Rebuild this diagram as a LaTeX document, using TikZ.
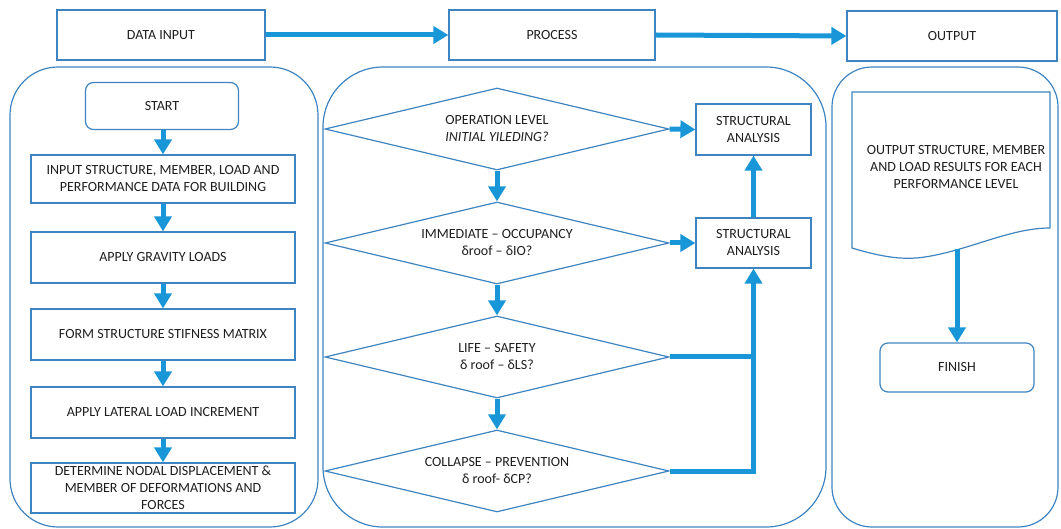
\documentclass[tikz,border=0pt]{standalone}
\usepackage{fontspec}
\setmainfont{Carlito}
\usetikzlibrary{arrows.meta,shapes.geometric,calc}
\definecolor{edge}{RGB}{62,132,192}
\definecolor{flow}{RGB}{24,150,215}
\definecolor{ink}{RGB}{30,30,30}
\begin{document}
\begin{tikzpicture}[x=1pt,y=-1pt,
  font=\fontsize{14}{17}\selectfont,
  every node/.style={text=ink},
  box/.style={draw=edge,line width=1.2pt,rectangle,inner sep=0pt,align=center},
  rbox/.style={box,rounded corners=8pt},
  panel/.style={draw=edge,line width=1.2pt},
  dia/.style={draw=edge,line width=1.2pt,diamond,shape aspect=4.2,minimum width=344pt,minimum height=82pt,inner sep=0pt,align=center},
  flowarrow/.style={draw=flow,line width=5pt,-{Triangle[length=15pt,width=17pt]}},
  flowline/.style={draw=flow,line width=5pt}
]
\useasboundingbox (0,0) rectangle (1061,529);
% panels
\draw[panel,rounded corners=48pt] (10,67) rectangle (318,527);
\draw[panel,rounded corners=60pt] (323,67) rectangle (826,527);
\draw[panel,rounded corners=40pt] (832,67) rectangle (1058,527);
% top boxes
\node[box,minimum width=208pt,minimum height=50pt] (di) at (161,35) {DATA INPUT};
\node[box,minimum width=206pt,minimum height=50pt] (pr) at (552,35) {PROCESS};
\node[box,minimum width=210pt,minimum height=50pt] (out) at (952,36) {OUTPUT};
\draw[flowarrow] (di.east) -- (pr.west);
\draw[flowarrow] (pr.east) -- (out.west);
% left column
\node[rbox,minimum width=153pt,minimum height=47pt] (start) at (162,106) {START};
\node[box,minimum width=264pt,minimum height=48pt] (inp) at (163,179) {INPUT STRUCTURE, MEMBER, LOAD AND\\PERFORMANCE DATA FOR BUILDING};
\node[box,minimum width=264pt,minimum height=51pt] (grav) at (163,257.5) {APPLY GRAVITY LOADS};
\node[box,minimum width=264pt,minimum height=51pt] (stif) at (163,334.5) {FORM STRUCTURE STIFNESS MATRIX};
\node[box,minimum width=264pt,minimum height=51pt] (lat) at (163,412.5) {APPLY LATERAL LOAD INCREMENT};
\node[box,minimum width=264pt,minimum height=50pt] (det) at (163,488) {DETERMINE NODAL DISPLACEMENT \&\\MEMBER OF DEFORMATIONS AND\\FORCES};
\draw[flowarrow] (start.south -| inp.north) -- (inp.north);
\draw[flowarrow] (inp) -- (grav);
\draw[flowarrow] (grav) -- (stif);
\draw[flowarrow] (stif) -- (lat);
\draw[flowarrow] (lat) -- (det);
% middle column
\node[dia] (d1) at (497,129) {OPERATION LEVEL\\\textit{INITIAL YILEDING?}};
\node[dia] (d2) at (497,243) {IMMEDIATE – OCCUPANCY\\δroof – δIO?};
\node[dia] (d3) at (497,357) {LIFE – SAFETY\\δ roof – δLS?};
\node[dia] (d4) at (497,471) {COLLAPSE – PREVENTION\\δ roof- δCP?};
\node[box,minimum width=115pt,minimum height=51pt] (sa1) at (753.5,129.5) {STRUCTURAL\\ANALYSIS};
\node[box,minimum width=115pt,minimum height=50pt] (sa2) at (753.5,243) {STRUCTURAL\\ANALYSIS};
\draw[flowarrow] (d1) -- (d2);
\draw[flowarrow] (d2) -- (d3);
\draw[flowarrow] (d3) -- (d4);
\draw[flowarrow] (d1.east) -- (sa1.west);
\draw[flowarrow] (d2.east) -- (sa2.west);
\draw[flowarrow] (sa2.north) -- (sa1.south);
\draw[flowline] (d3.east) -- (d3.east -| sa2.south);
\draw[flowarrow] (d4.east) -| (sa2.south);
% right column
\draw[panel] (852,92) -- (1050,92) -- (1050,228)
  .. controls (1010,228) and (970,250) .. (925,257)
  .. controls (905,260) and (885,258) .. (852,248) -- cycle;
\node[align=center] (res) at (956,167) {OUTPUT STRUCTURE, MEMBER\\AND LOAD RESULTS FOR EACH\\PERFORMANCE LEVEL};
\coordinate (docbot) at (957,249);
\node[rbox,minimum width=154pt,minimum height=49pt] (fin) at (957,367.5) {FINISH};
\draw[flowarrow] (docbot) -- (fin.north);
\end{tikzpicture}
\end{document}
